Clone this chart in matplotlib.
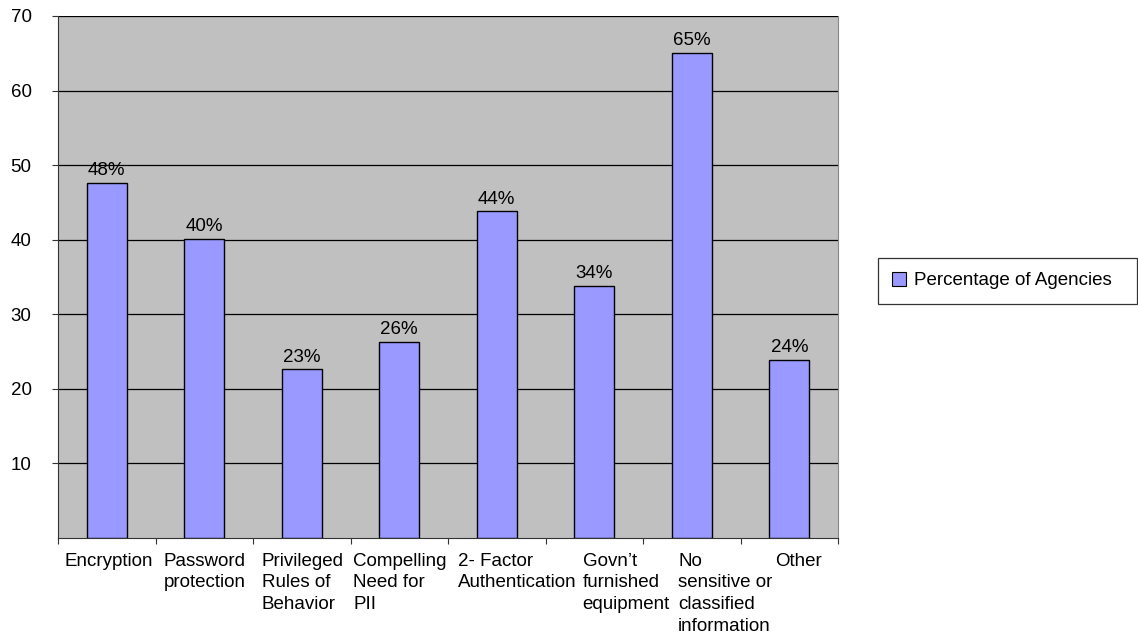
import matplotlib.pyplot as plt
from matplotlib.patches import Patch

plt.rcParams['font.family'] = ['Liberation Sans', 'DejaVu Sans']

categories = ['Encryption', 'Password\nprotection', 'Privileged\nRules of\nBehavior',
              'Compelling\nNeed for\nPII', '2- Factor\nAuthentication',
              'Govn\u2019t\nfurnished\nequipment', 'No\nsensitive or\nclassified\ninformation',
              'Other']
values = [47.6, 40.1, 22.6, 26.3, 43.8, 33.8, 65.1, 23.9]
yticks = [10, 20, 30, 40, 50, 60, 70]

# left edge of each category label, in category units from its slot start
label_offsets = [0.07, 0.08, 0.09, 0.03, 0.10, 0.38, 0.36, 0.36]

FS = 13.5

fig = plt.figure(figsize=(11.38, 6.35), dpi=100)
ax = fig.add_axes([58 / 1138, 97 / 635, 780 / 1138, 522 / 635])
ax.set_facecolor('#c0c0c0')

x = list(range(len(categories)))
ax.bar(x, values, width=0.41, color='#9999ff', edgecolor='black', linewidth=1, zorder=3)
for xi, v in zip(x, values):
    ax.text(xi, v + 0.5, f'{v:.0f}%', ha='center', va='bottom', fontsize=FS, zorder=4)

ax.set_xlim(-0.5, len(categories) - 0.5)
ax.set_ylim(0, 70)
ax.set_yticks(yticks)
ax.set_yticklabels([str(t) for t in yticks], fontsize=FS)
ax.yaxis.grid(True, color='black', linewidth=0.9, zorder=1)
ax.set_axisbelow(True)

# category labels sit between the boundary ticks
ax.set_xticks([i - 0.5 for i in range(len(categories) + 1)])
ax.set_xticklabels([])
ax.tick_params(axis='x', length=4, color='#333333')
ax.tick_params(axis='y', length=4, pad=15, color='#333333')
for xi, lab, off in zip(x, categories, label_offsets):
    ax.text(xi - 0.5 + off, -2.0, lab, ha='left', va='top', fontsize=FS,
            linespacing=1.35, clip_on=False)

for side in ['left', 'bottom']:
    ax.spines[side].set_color('#333333')
ax.spines['right'].set_color('#888888')
ax.spines['top'].set_visible(False)

handle = Patch(facecolor='#9999ff', edgecolor='black', linewidth=0.8)
leg = fig.legend([handle], ['Percentage of Agencies'], loc='upper left',
                 bbox_to_anchor=(878 / 1138, 0, 259 / 1138, 1 - 258 / 635), mode='expand',
                 fontsize=FS, frameon=True, fancybox=False, borderpad=0.75,
                 handlelength=0.75, handleheight=0.75, handletextpad=0.4, borderaxespad=0)
leg.get_frame().set_edgecolor('black')
leg.get_frame().set_linewidth(0.9)

fig.savefig('out.png', dpi=100)
